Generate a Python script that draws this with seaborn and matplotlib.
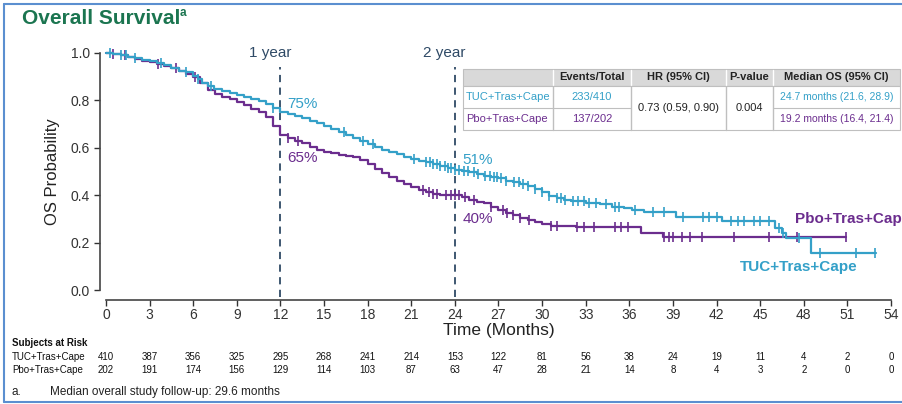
import numpy as np
import pandas as pd
import matplotlib
matplotlib.use("Agg")
import matplotlib.pyplot as plt
from matplotlib.patches import Rectangle
from matplotlib.lines import Line2D
from matplotlib.transforms import blended_transform_factory
import seaborn as sns

# ---------------- data ----------------
tuc_t = [0, 0.5, 1, 1.5, 2, 2.5, 3, 3.5, 4, 4.5, 5, 5.5, 6, 6.3, 6.6, 7, 7.4, 8, 8.5, 9,
         9.5, 10, 10.5, 11, 11.5, 12, 12.5, 13, 13.5, 14, 14.5, 15, 15.5, 16, 16.5, 17,
         17.5, 18, 18.5, 19, 19.5, 20, 20.5, 21, 21.5, 22, 22.5, 23, 23.5, 24, 24.5, 25,
         25.5, 26, 26.5, 27, 27.5, 28, 28.5, 29, 29.5, 30, 30.5, 31, 31.5, 32, 33, 34,
         34.8, 35.6, 36.2, 37, 39.2, 42.4, 46.0, 46.5, 46.8, 48.5, 53.0]
tuc_s = [1.0, 0.995, 0.99, 0.985, 0.978, 0.972, 0.965, 0.958, 0.948, 0.937, 0.926, 0.918,
         0.905, 0.89, 0.874, 0.86, 0.847, 0.838, 0.83, 0.823, 0.814, 0.806, 0.797, 0.785,
         0.77, 0.752, 0.742, 0.733, 0.725, 0.714, 0.703, 0.693, 0.68, 0.668, 0.655, 0.641,
         0.628, 0.615, 0.603, 0.592, 0.582, 0.572, 0.562, 0.553, 0.545, 0.538, 0.53, 0.522,
         0.514, 0.508, 0.502, 0.497, 0.49, 0.483, 0.477, 0.471, 0.462, 0.455, 0.447, 0.44,
         0.428, 0.413, 0.398, 0.39, 0.381, 0.375, 0.368, 0.362, 0.352, 0.344, 0.337, 0.33,
         0.31, 0.292, 0.262, 0.24, 0.219, 0.157, 0.157]

pbo_t = [0, 0.5, 1, 1.5, 2, 2.5, 3, 3.5, 4, 4.5, 5, 5.5, 6, 6.5, 7, 7.5, 8, 8.5, 9, 9.5,
         10, 10.5, 11, 11.5, 12, 12.5, 13, 13.5, 14, 14.5, 15, 15.5, 16, 16.5, 17, 17.5,
         18, 18.5, 19, 19.5, 20, 20.5, 21, 21.5, 22, 22.5, 23, 24, 24.5, 25, 25.5, 26,
         26.5, 27, 27.5, 28, 28.5, 29, 29.5, 30, 30.6, 32.3, 36.8, 38.3, 50.9]
pbo_s = [1.0, 0.995, 0.99, 0.983, 0.975, 0.968, 0.96, 0.953, 0.945, 0.935, 0.925, 0.912,
         0.9, 0.875, 0.845, 0.828, 0.815, 0.805, 0.795, 0.78, 0.765, 0.75, 0.73, 0.69,
         0.655, 0.64, 0.628, 0.62, 0.605, 0.592, 0.582, 0.576, 0.57, 0.566, 0.562, 0.548,
         0.532, 0.512, 0.493, 0.475, 0.46, 0.447, 0.434, 0.422, 0.412, 0.405, 0.402, 0.40,
         0.393, 0.38, 0.373, 0.368, 0.352, 0.337, 0.327, 0.315, 0.303, 0.296, 0.288, 0.279,
         0.272, 0.265, 0.240, 0.222, 0.222]

tuc_cens = [0.3, 1.0, 1.4, 2.0, 3.8, 5.5, 6.3, 7.2, 11.5, 16.4, 17.7, 18.4, 21.2, 22.0,
            22.3, 22.5, 22.8, 23.0, 23.3, 23.5, 23.7, 24.0, 24.3, 24.6, 24.9, 25.3, 25.6,
            26.1, 26.4, 26.7, 26.9, 27.2, 27.5, 28.1, 28.4, 28.7, 29.0, 29.5, 30.0, 30.5,
            31.0, 31.3, 31.6, 32.1, 32.5, 32.9, 33.2, 33.7, 34.4, 35.0, 35.3, 36.4, 37.6,
            38.4, 39.7, 41.1, 41.5, 42.0, 43.0, 43.5, 43.9, 44.6, 45.0, 45.6, 46.3, 46.6,
            47.7, 49.1, 51.6, 52.9]
pbo_cens = [0.5, 1.3, 3.6, 4.8, 6.1, 12.5, 13.2, 21.8, 22.2, 22.5, 22.8, 23.4, 23.7, 24.0,
            24.3, 24.7, 25.3, 26.5, 27.3, 27.6, 28.0, 28.5, 29.1, 30.6, 31.0, 32.4, 32.9,
            33.6, 35.0, 35.4, 35.9, 38.4, 38.7, 39.0, 39.6, 40.2, 41.0, 43.2, 45.6, 47.5,
            50.9]

risk_times = list(range(0, 55, 3))
tuc_risk = [410, 387, 356, 325, 295, 268, 241, 214, 153, 122, 81, 56, 38, 24, 19, 11, 4, 2, 0]
pbo_risk = [202, 191, 174, 156, 129, 114, 103, 87, 63, 47, 28, 21, 14, 8, 4, 3, 2, 0, 0]

arm_names = ["TUC+Tras+Cape", "Pbo+Tras+Cape"]
events = ["233/410", "137/202"]
median_os = ["24.7 months (21.6, 28.9)", "19.2 months (16.4, 21.4)"]
hr_text = "0.73 (0.59, 0.90)"
p_text = "0.004"
headers = ["", "Events/Total", "HR (95% CI)", "P-value", "Median OS (95% CI)"]
landmarks = [12, 24]
landmark_labels = ["1 year", "2 year"]
tuc_land = ["75%", "51%"]
pbo_land = ["65%", "40%"]

CYAN = "#34A0C8"
PURPLE = "#6B2D8E"
NAVY = "#2F4A66"
GREEN = "#1B7550"

# ---------------- figure ----------------
sns.set_theme(style="ticks")
plt.rcParams["font.family"] = ["Liberation Sans", "DejaVu Sans"]

W, H = 903, 404
fig = plt.figure(figsize=(W / 100, H / 100), dpi=100)


def fx(px):
    return px / W


def fy(py):
    return 1 - py / H


ax = fig.add_axes([fx(106), fy(290), fx(891) - fx(106), fy(53) - fy(290)])
ax.set_xlim(0, 54)
ax.set_ylim(0, 1)

df_t = pd.DataFrame({"t": tuc_t, "s": tuc_s})
df_p = pd.DataFrame({"t": pbo_t, "s": pbo_s})
sns.lineplot(data=df_p, x="t", y="s", ax=ax, color=PURPLE, lw=1.6,
             drawstyle="steps-post", estimator=None, clip_on=False, zorder=3)
sns.lineplot(data=df_t, x="t", y="s", ax=ax, color=CYAN, lw=1.6,
             drawstyle="steps-post", estimator=None, clip_on=False, zorder=4)


def step_at(times, surv, c):
    idx = np.searchsorted(times, c, side="right") - 1
    return surv[max(idx, 0)]


cp = pd.DataFrame({"t": pbo_cens, "s": [step_at(pbo_t, pbo_s, c) for c in pbo_cens]})
ct = pd.DataFrame({"t": tuc_cens, "s": [step_at(tuc_t, tuc_s, c) for c in tuc_cens]})
sns.scatterplot(data=cp, x="t", y="s", ax=ax, marker="|", s=45, color=PURPLE,
                linewidth=1.2, clip_on=False, zorder=3)
sns.scatterplot(data=ct, x="t", y="s", ax=ax, marker="|", s=45, color=CYAN,
                linewidth=1.2, clip_on=False, zorder=4)

# landmark lines
for lm, lab in zip(landmarks, landmark_labels):
    ax.axvline(lm, ymin=-0.03, ymax=0.94, color=NAVY, ls=(0, (4, 3)), lw=1.3,
               clip_on=False, zorder=2)
    ax.text(lm - 0.7, 1.0, lab, ha="center", va="center", fontsize=11, color=NAVY)

ax.text(12.5, 0.786, tuc_land[0], color=CYAN, fontsize=11, va="center")
ax.text(12.5, 0.558, pbo_land[0], color=PURPLE, fontsize=11, va="center")
ax.text(24.5, 0.548, tuc_land[1], color=CYAN, fontsize=11, va="center")
ax.text(24.5, 0.30, pbo_land[1], color=PURPLE, fontsize=11, va="center")

ax.text(47.4, 0.30, arm_names[1], color=PURPLE, fontsize=11, fontweight="bold",
        va="center", ha="left", clip_on=False)
ax.text(43.6, 0.095, arm_names[0], color=CYAN, fontsize=11, fontweight="bold",
        va="center", ha="left")

# axes styling
ax.set_xticks(risk_times)
ax.set_yticks([0, 0.2, 0.4, 0.6, 0.8, 1.0])
ax.set_yticklabels(["0.0", "0.2", "0.4", "0.6", "0.8", "1.0"])
ax.tick_params(labelsize=10, colors="#333333", length=4, width=1)
ax.tick_params(axis="x", pad=2)
for sp in ["top", "right"]:
    ax.spines[sp].set_visible(False)
ax.spines["left"].set_position(("outward", 4))
ax.spines["bottom"].set_position(("outward", 7))
for sp in ["left", "bottom"]:
    ax.spines[sp].set_color("#444444")
    ax.spines[sp].set_linewidth(1.2)
ax.set_xlabel("Time (Months)", fontsize=12.5, labelpad=1, color="#222222")
ax.set_ylabel("OS Probability", fontsize=12, labelpad=8, color="#222222")

# title
fig.text(fx(22), fy(18), "Overall Survival", fontsize=15, fontweight="bold",
         color=GREEN, va="center", ha="left")
fig.text(fx(180), fy(13), "a", fontsize=8.5, fontweight="bold", color=GREEN,
         va="center", ha="left")

# ---------------- summary table ----------------
cols = [463, 553, 631, 726, 773, 900]
rows = [69, 86, 108, 130]
grid_c = "#BFBFBF"
tfs = 8
fig.patches.append(Rectangle((fx(cols[0]), fy(rows[1])), fx(cols[-1]) - fx(cols[0]),
                             fy(rows[0]) - fy(rows[1]), transform=fig.transFigure,
                             facecolor="#D9D9D9", edgecolor=grid_c, lw=0.8, zorder=5))
fig.patches.append(Rectangle((fx(cols[0]), fy(rows[3])), fx(cols[-1]) - fx(cols[0]),
                             fy(rows[1]) - fy(rows[3]), transform=fig.transFigure,
                             facecolor="white", edgecolor=grid_c, lw=0.8, zorder=5))


def vline(xp, y0, y1, c):
    fig.lines.append(Line2D([fx(xp), fx(xp)], [fy(y0), fy(y1)], transform=fig.transFigure,
                            color=c, lw=1.0, zorder=6))


def hline(x0, x1, yp):
    fig.lines.append(Line2D([fx(x0), fx(x1)], [fy(yp), fy(yp)], transform=fig.transFigure,
                            color=grid_c, lw=0.8, zorder=6))


for xc in cols[1:-1]:
    vline(xc, rows[0] + 1, rows[1] - 1, "white")
    vline(xc, rows[1], rows[3], grid_c)
hline(cols[0], cols[2], rows[2])
hline(cols[4], cols[5], rows[2])

for i, h in enumerate(headers):
    if h:
        fig.text(fx((cols[i] + cols[i + 1]) / 2), fy((rows[0] + rows[1]) / 2), h,
                 fontsize=tfs, fontweight="bold", ha="center", va="center",
                 color="#222222", zorder=7)
arm_cols = [CYAN, PURPLE]
for r in range(2):
    yc = fy((rows[r + 1] + rows[r + 2]) / 2)
    fig.text(fx(cols[0] + 3), yc, arm_names[r], fontsize=tfs, color=arm_cols[r],
             ha="left", va="center", zorder=7)
    fig.text(fx((cols[1] + cols[2]) / 2), yc, events[r], fontsize=tfs, color=arm_cols[r],
             ha="center", va="center", zorder=7)
    fig.text(fx((cols[4] + cols[5]) / 2), yc, median_os[r], fontsize=7.5,
             color=arm_cols[r], ha="center", va="center", zorder=7)
ymid = fy((rows[1] + rows[3]) / 2)
fig.text(fx((cols[2] + cols[3]) / 2), ymid, hr_text, fontsize=tfs, color="#222222",
         ha="center", va="center", zorder=7)
fig.text(fx((cols[3] + cols[4]) / 2), ymid, p_text, fontsize=tfs, color="#222222",
         ha="center", va="center", zorder=7)

# ---------------- risk table ----------------
rfs = 7
fig.text(fx(12), fy(343), "Subjects at Risk", fontsize=rfs, fontweight="bold",
         ha="left", va="center", color="#111111")
tr = blended_transform_factory(ax.transData, fig.transFigure)
for r, (name, vals) in enumerate(zip(arm_names, [tuc_risk, pbo_risk])):
    yp = fy(357 + r * 13)
    fig.text(fx(12), yp, name, fontsize=rfs, ha="left", va="center", color="#111111")
    for t, v in zip(risk_times, vals):
        ax.text(t, yp, str(v), transform=tr, fontsize=rfs, ha="center", va="center",
                color="#111111", clip_on=False)

fig.text(fx(12), fy(392), "a.", fontsize=8.5, ha="left", va="center", color="#222222")
fig.text(fx(50), fy(392), "Median overall study follow-up: 29.6 months", fontsize=8.5,
         ha="left", va="center", color="#222222")

# border
bc = "#5B8FD0"
fig.lines.append(Line2D([fx(4), fx(4)], [fy(4), fy(402)], transform=fig.transFigure,
                        color=bc, lw=1.5))
fig.lines.append(Line2D([fx(4), fx(903)], [fy(4), fy(4)], transform=fig.transFigure,
                        color=bc, lw=1.5))
fig.lines.append(Line2D([fx(4), fx(903)], [fy(402), fy(402)], transform=fig.transFigure,
                        color=bc, lw=1.5))

fig.savefig("out.png", dpi=100)
